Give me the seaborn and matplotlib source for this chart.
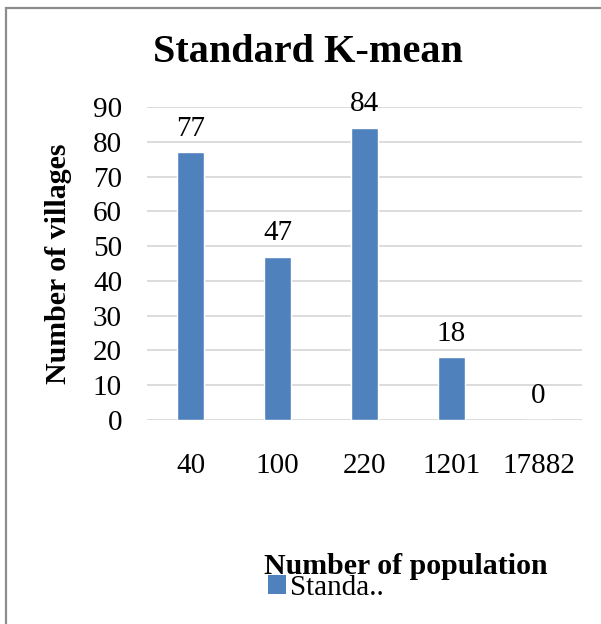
import matplotlib
matplotlib.use("Agg")
import matplotlib.pyplot as plt
from matplotlib.patches import Rectangle, Patch
import seaborn as sns
import pandas as pd

# Village counts per population cluster centre
population_levels = ["40", "100", "220", "1201", "17882"]
village_counts = [77, 47, 84, 18, 0]
series_name = "Standard K-mean"
legend_label = "Standa.."

sns.set_theme(style="white")
plt.rcParams["font.family"] = ["Liberation Serif", "DejaVu Serif"]
plt.rcParams["text.color"] = "black"
plt.rcParams["axes.labelcolor"] = "black"
plt.rcParams["xtick.color"] = "black"
plt.rcParams["ytick.color"] = "black"

bar_color = "#4f81bd"
grid_color = "#d9d9d9"
label_size = 21

fig = plt.figure(figsize=(6.01, 6.24), dpi=100)
fig.patch.set_facecolor("white")

# Chart-area frame (only left and top edges fall inside the canvas)
fig.add_artist(Rectangle((6 / 601, -0.1), 1.2, 1 - 8 / 624 + 0.1,
                         transform=fig.transFigure, fill=False,
                         edgecolor="#8c8c8c", linewidth=1.6))

ax = fig.add_axes([147 / 601, 1 - 420 / 624, 435 / 601, 313 / 624])

df = pd.DataFrame({"population": population_levels, "villages": village_counts})
sns.barplot(data=df, x="population", y="villages", order=population_levels,
            color=bar_color, saturation=1, width=0.31, ax=ax, zorder=3)

ax.set_ylim(0, 90)
ax.set_xlim(-0.5, len(population_levels) - 0.5)
ax.set_yticks(range(0, 91, 10))
ax.yaxis.grid(True, color=grid_color, linewidth=1.3, zorder=0)
ax.set_axisbelow(True)
for s in ax.spines.values():
    s.set_visible(False)
ax.tick_params(axis="both", length=0, labelsize=label_size, colors="black")
ax.tick_params(axis="x", pad=24)
ax.tick_params(axis="y", pad=18)
ax.set_xlabel("")
ax.set_ylabel("")

# Value labels above each bar
for i, v in enumerate(village_counts):
    ax.annotate(str(v), (i, v), xytext=(0, 12), textcoords="offset points",
                ha="center", va="baseline", fontsize=label_size, color="black")

fig.text(308 / 601, 1 - 52 / 624, series_name, ha="center", va="center",
         fontsize=29, fontweight="bold", color="black")
fig.text(58 / 601, 1 - 264 / 624, "Number of villages", rotation=90,
         ha="center", va="center", fontsize=21.5, fontweight="bold",
         color="black")
fig.text(406 / 601, 1 - 574 / 624, "Number of population", ha="center",
         va="baseline", fontsize=21.5, fontweight="bold", color="black")

handle = Patch(facecolor=bar_color, edgecolor="none")
leg = fig.legend([handle], [legend_label], loc="center left",
                 bbox_to_anchor=(268 / 601, 1 - 588 / 624), frameon=False,
                 fontsize=label_size, handlelength=0.6, handleheight=0.6,
                 handletextpad=0.15, borderpad=0, borderaxespad=0)
for t in leg.get_texts():
    t.set_color("black")

fig.savefig("out.png", dpi=100)
